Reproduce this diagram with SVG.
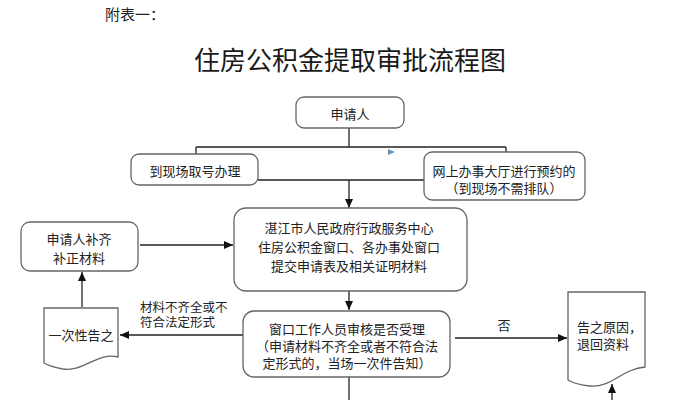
<svg xmlns="http://www.w3.org/2000/svg" width="698" height="400" viewBox="0 0 698 400">
<defs>
<marker id="arr" markerUnits="userSpaceOnUse" markerWidth="10" markerHeight="8" refX="9" refY="4" orient="auto">
<path d="M0,0 L9,4 L0,8 Z" fill="#111"/>
</marker>
<style>
text{font-family:"Noto Sans CJK SC","Noto Sans",sans-serif;fill:#222;font-size:13px}
.box{fill:#fff;stroke:#666;stroke-width:1.3}
.ln{fill:none;stroke:#222;stroke-width:1.3}
.c{text-anchor:middle}
.s{font-size:12.5px}
</style>
</defs>
<rect width="698" height="400" fill="#fff"/>
<text x="105" y="20" style="font-size:15px">附表一：</text>
<text x="350" y="70" class="c" style="font-size:26px;fill:#1a1a1a">住房公积金提取审批流程图</text>

<g id="connectors">
<path class="ln" d="M349,128 V147 M196,147 H506 M196,147 V154 M506,147 V152"/>
<path class="ln" d="M258,180 H424"/>
<path class="ln" d="M349,180 V208" marker-end="url(#arr)"/>
<path class="ln" d="M140,245 H233" marker-end="url(#arr)"/>
<path class="ln" d="M349,291 V310" marker-end="url(#arr)"/>
<path class="ln" d="M455,338 H567" marker-end="url(#arr)"/>
<path class="ln" d="M243,335 H120" marker-end="url(#arr)"/>
<path class="ln" d="M82,307 V272" marker-end="url(#arr)"/>
<path class="ln" d="M612,400 V384" marker-end="url(#arr)"/>
<path class="ln" d="M349,377 V400"/>
<polygon points="388,149 395,152 388,155" fill="#6a92c0"/>
<text class="s"><tspan x="140" y="312">材料不齐全或不</tspan><tspan x="140" y="327">符合法定形式</tspan></text>
<text x="504" y="330" class="c">否</text>
</g>

<g id="applicant">
<rect class="box" x="296" y="97" width="108" height="31" rx="8"/>
<text x="350" y="119" class="c">申请人</text>
</g>
<g id="onsite">
<rect class="box" x="131" y="154" width="127" height="31" rx="8"/>
<text x="195" y="176" class="c">到现场取号办理</text>
</g>
<g id="online">
<rect class="box" x="424" y="152" width="161" height="48" rx="8"/>
<text class="c"><tspan x="504" y="176">网上办事大厅进行预约的</tspan><tspan x="504" y="193">（到现场不需排队）</tspan></text>
</g>
<g id="center">
<rect class="box" x="234" y="208" width="233" height="83" rx="12"/>
<text class="c"><tspan x="349" y="233">湛江市人民政府行政服务中心</tspan><tspan x="349" y="252">住房公积金窗口、各办事处窗口</tspan><tspan x="349" y="271">提交申请表及相关证明材料</tspan></text>
</g>
<g id="supplement">
<rect class="box" x="21" y="222" width="117" height="49" rx="9"/>
<text class="c"><tspan x="79" y="244">申请人补齐</tspan><tspan x="79" y="263">补正材料</tspan></text>
</g>
<g id="review">
<rect class="box" x="243" y="311" width="207" height="66" rx="11"/>
<text class="c"><tspan x="347" y="334">窗口工作人员审核是否受理</tspan><tspan x="347" y="351">（申请材料不齐全或者不符合法</tspan><tspan x="347" y="368">定形式的，当场一次件告知）</tspan></text>
</g>
<g id="notify-once">
<path class="box" d="M44,308 H118 V357 C97,352 84,372 63,369 C53,367 47,365 44,363 Z"/>
<text x="81" y="340" class="c">一次性告之</text>
</g>
<g id="reject">
<path class="box" d="M568,292 H645 V367 C622,369 611,388 590,386 C580,385 573,383 568,380 Z"/>
<text><tspan x="577" y="332">告之原因，</tspan><tspan x="577" y="349">退回资料</tspan></text>
</g>
</svg>
